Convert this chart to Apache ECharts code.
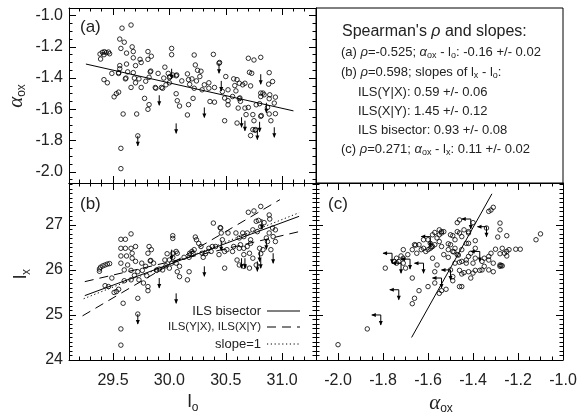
<!DOCTYPE html>
<html><head><meta charset="utf-8">
<script src="https://cdn.jsdelivr.net/npm/echarts@6/dist/echarts.min.js"></script>
<style>html,body{margin:0;padding:0;background:#fff}#c{width:579px;height:414px}</style>
</head><body><div id="c"></div><script>
// ---------------- DATA ----------------
// Tick labels
const loTicks = [29.5, 30.0, 30.5, 31.0];
const alphaTicks = [-2.0, -1.8, -1.6, -1.4, -1.2, -1.0];
const lxTicks = [24, 25, 26, 27];

// Panel (a): l_o vs alpha_ox (detections)
const aLo = [29.66,29.58,29.56,29.60,29.57,29.67,29.68,29.62,29.81,29.84,29.74,29.75,29.81,29.68,29.70,29.62,29.56,29.56,29.49,29.55,29.55,29.63,29.68,29.83,29.835,29.90,29.42,29.45,29.61,29.615,29.69,29.73,29.70,29.79,29.82,29.55,29.53,29.51,29.66,29.75,29.88,29.875,29.93,29.78,29.82,29.81,29.59,29.71,29.57,29.57,29.72,30.02,30.02,29.96,29.99,29.95,30.00,30.005,30.03,30.06,30.065,29.97,30.00,29.94,30.06,30.07,30.09,30.16,30.17,30.11,30.18,30.20,30.23,30.25,30.28,30.22,30.27,30.24,30.22,30.21,30.17,30.16,30.31,30.35,30.29,30.35,30.40,30.39,30.44,30.445,30.47,30.50,30.52,30.49,30.52,30.40,30.36,30.57,30.60,30.62,30.65,30.67,30.58,30.59,30.56,30.62,30.625,30.63,30.52,30.61,30.49,30.72,30.70,30.75,30.81,30.71,30.73,30.885,30.915,30.88,30.81,30.83,30.81,30.84,30.89,30.885,30.94,30.93,30.77,30.80,30.87,30.67,30.70,30.68,30.74,30.75,30.81,30.815,30.94,30.885,30.90,30.60,30.74,30.76,30.765,30.72,29.385,29.406,29.424,29.44,29.46,29.47,29.39,29.42];
const aAlpha = [-1.06,-1.08,-1.15,-1.17,-1.21,-1.20,-1.23,-1.24,-1.23,-1.26,-1.28,-1.30,-1.28,-1.27,-1.32,-1.31,-1.32,-1.34,-1.37,-1.37,-1.365,-1.36,-1.365,-1.36,-1.355,-1.37,-1.41,-1.43,-1.405,-1.40,-1.40,-1.405,-1.43,-1.42,-1.395,-1.49,-1.50,-1.52,-1.46,-1.46,-1.465,-1.46,-1.46,-1.53,-1.57,-1.60,-1.63,-1.63,-1.85,-1.98,-1.77,-1.21,-1.25,-1.33,-1.37,-1.40,-1.397,-1.39,-1.38,-1.385,-1.38,-1.443,-1.43,-1.465,-1.50,-1.545,-1.579,-1.373,-1.41,-1.418,-1.44,-1.405,-1.316,-1.35,-1.356,-1.252,-1.39,-1.418,-1.465,-1.53,-1.57,-1.636,-1.443,-1.43,-1.475,-1.465,-1.46,-1.248,-1.305,-1.30,-1.486,-1.39,-1.475,-1.528,-1.545,-1.554,-1.55,-1.405,-1.41,-1.433,-1.443,-1.433,-1.448,-1.482,-1.518,-1.532,-1.527,-1.549,-1.571,-1.592,-1.673,-1.45,-1.273,-1.284,-1.267,-1.363,-1.369,-1.365,-1.422,-1.439,-1.496,-1.496,-1.518,-1.507,-1.507,-1.532,-1.522,-1.56,-1.571,-1.564,-1.588,-1.592,-1.588,-1.634,-1.634,-1.673,-1.645,-1.64,-1.628,-1.63,-1.673,-1.688,-1.73,-1.734,-1.73,-1.768,-1.246,-1.235,-1.231,-1.237,-1.233,-1.244,-1.278,-1.25];
// Panel (a) upper limits
const aLimLo = [29.72,29.91,30.06,30.02,30.31,30.44,30.46,30.81,30.86,30.64,30.67,30.78,30.80,30.93];
const aLimAlpha = [-1.77,-1.51,-1.69,-1.34,-1.588,-1.305,-1.418,-1.375,-1.558,-1.651,-1.673,-1.73,-1.68,-1.715];
// Panel (a) fit
const fitALo = [29.26, 31.10];
const fitAAlpha = [-1.31, -1.61];

// Panel (b): l_o vs l_x (detections)
const bLo = [29.38,29.39,29.41,29.43,29.45,29.47,29.38,29.66,29.57,29.61,29.57,29.61,29.66,29.70,29.67,29.57,29.62,29.67,29.70,29.57,29.63,29.60,29.66,29.72,29.76,29.755,29.82,29.84,29.81,29.83,29.835,29.86,29.79,29.80,29.77,29.81,29.81,29.73,29.69,29.66,29.60,29.55,29.53,29.51,29.43,29.46,29.49,29.59,29.72,29.72,29.57,29.57,29.91,29.96,30.00,29.98,30.03,30.06,30.07,30.03,29.97,30.00,30.02,29.885,29.89,30.03,30.03,29.94,30.06,30.09,30.07,30.09,30.16,30.175,30.175,30.13,30.18,30.20,30.22,30.21,30.23,30.24,30.26,30.28,30.29,30.32,30.35,30.37,30.38,30.41,30.30,30.39,30.45,30.455,30.46,30.47,30.44,30.49,30.49,30.51,30.52,30.56,30.57,30.59,30.62,30.65,30.66,30.63,30.62,30.66,30.69,30.71,30.66,30.72,30.72,30.69,30.74,30.78,30.81,30.77,30.79,30.84,30.70,30.75,30.81,30.885,30.89,30.915,30.94,30.885,30.92,30.94,30.86,30.87,30.80,30.83,30.90,30.81,30.74,30.71,30.77,30.62,30.66,30.60];
const bLx = [26.02,26.06,26.09,26.11,26.13,26.14,25.97,26.80,26.68,26.68,26.48,26.48,26.48,26.52,26.37,26.31,26.31,26.26,26.19,26.15,26.11,26.00,25.99,25.96,25.99,26.15,26.52,26.45,26.37,26.20,26.21,26.15,26.08,25.87,25.71,25.63,25.54,25.78,25.88,25.78,25.76,25.57,25.52,25.50,25.65,25.63,25.82,25.26,25.37,25.02,24.69,24.33,26.02,26.22,26.22,26.36,26.37,26.41,26.37,26.28,26.09,26.04,26.15,25.99,26.00,26.76,26.70,26.00,26.15,26.08,25.96,25.85,25.78,25.96,26.28,26.28,26.37,26.41,26.45,26.36,26.73,26.67,26.59,26.52,26.37,26.36,26.48,26.41,26.52,26.52,26.28,27.04,26.94,26.93,26.82,26.67,26.34,26.04,26.41,26.45,26.82,26.41,26.52,26.82,26.71,26.82,26.74,26.56,26.48,26.48,26.52,26.37,26.34,26.59,26.67,26.82,26.89,26.85,26.96,27.08,27.10,27.05,27.28,27.31,27.41,27.22,27.13,26.93,26.89,26.82,26.74,26.63,26.71,26.63,26.48,26.45,26.45,26.36,26.26,26.04,26.11,26.11,26.08,26.22];
// Panel (b) upper limits
const bLimLo = [29.72,29.91,30.06,30.31,30.46,30.78,30.81,30.80,30.92,30.64,30.67,30.86,30.82,30.02];
const bLimLx = [25.02,25.82,25.48,26.08,26.65,26.19,26.26,26.41,26.37,26.26,26.26,26.68,27.13,26.45];
// Panel (b) regression lines
const bisectorLo = [29.25, 31.15];
const bisectorLx = [25.43, 27.19];
const ilsYXLo = [29.25, 31.15];
const ilsYXLx = [25.74, 26.85];
const ilsXYLo = [29.23, 30.98];
const ilsXYLx = [24.98, 27.56];
const slope1Lo = [29.24, 31.15];
const slope1Lx = [25.36, 27.27];

// Panel (c): alpha_ox vs l_x (detections)
const cAlpha = [-2.00,-1.87,-1.79,-1.67,-1.66,-1.67,-1.64,-1.60,-1.57,-1.55,-1.54,-1.52,-1.57,-1.50,-1.49,-1.49,-1.46,-1.45,-1.46,-1.44,-1.45,-1.42,-1.41,-1.40,-1.39,-1.37,-1.36,-1.35,-1.31,-1.33,-1.35,-1.33,-1.32,-1.28,-1.28,-1.27,-1.275,-1.28,-1.26,-1.25,-1.25,-1.24,-1.27,-1.30,-1.29,-1.28,-1.28,-1.25,-1.21,-1.19,-1.12,-1.10,-1.31,-1.33,-1.32,-1.34,-1.40,-1.46,-1.47,-1.44,-1.42,-1.42,-1.50,-1.49,-1.48,-1.47,-1.46,-1.45,-1.43,-1.42,-1.39,-1.39,-1.41,-1.42,-1.43,-1.45,-1.47,-1.465,-1.48,-1.50,-1.51,-1.49,-1.485,-1.51,-1.53,-1.51,-1.54,-1.55,-1.56,-1.55,-1.54,-1.55,-1.54,-1.53,-1.57,-1.58,-1.60,-1.59,-1.57,-1.58,-1.585,-1.59,-1.60,-1.63,-1.62,-1.66,-1.655,-1.64,-1.67,-1.65,-1.62,-1.61,-1.58,-1.56,-1.71,-1.69,-1.72,-1.74,-1.75,-1.74,-1.73,-1.71,-1.70,-1.71,-1.45,-1.43,-1.40,-1.39,-1.36,-1.33,-1.31,-1.46,-1.48];
const cLx = [24.34,24.69,26.04,25.25,25.37,25.82,25.54,25.63,25.71,25.48,25.54,25.57,25.96,26.00,25.85,25.76,25.63,25.63,25.99,25.94,25.91,25.96,25.82,25.93,25.99,25.99,26.00,26.08,25.96,26.22,26.26,26.30,26.37,26.08,26.11,26.09,26.10,26.36,26.37,26.31,26.41,26.45,26.48,26.46,26.73,26.89,27.04,26.76,26.46,26.46,26.67,26.80,27.39,27.30,27.33,26.93,27.05,27.11,27.05,26.89,26.82,26.85,26.78,26.76,26.67,26.85,26.82,26.74,26.59,26.59,26.48,26.65,26.37,26.30,26.22,26.19,26.34,26.33,26.48,26.56,26.58,26.41,26.40,26.28,26.34,26.45,26.52,26.63,26.71,26.78,26.85,26.89,26.82,26.85,26.83,26.78,26.67,26.59,26.56,26.52,26.51,26.48,26.45,26.45,26.48,26.56,26.55,26.56,26.45,26.37,26.67,26.41,26.26,26.11,26.26,26.34,26.31,26.26,26.19,26.15,26.19,26.15,26.04,26.45,26.45,26.15,26.15,26.26,26.19,26.00,26.15,26.17,26.15];
// Panel (c) upper limits (both quantities)
const cLimAlpha = [-1.81,-1.73,-1.54,-1.50,-1.34,-1.41,-1.37,-1.59,-1.62,-1.76,-1.68,-1.72];
const cLimLx = [25.00,25.56,25.82,26.00,26.96,27.13,26.41,26.74,26.15,26.37,26.24,26.15];
// Panel (c) fit
const fitCAlpha = [-1.673, -1.316];
const fitCLx = [24.50, 27.69];

// ---------------- LAYOUT / STYLE ----------------
const FONT = "'Liberation Sans', Arial, Helvetica, sans-serif";
const TXT = '#222';
const ranges = {
  lo: [29.11, 31.30],
  alphaA: [-2.072, -0.951],
  lx: [24.0, 27.93],
  alphaC: [-2.098, -1.0]
};
const grids = [
  {left: 69, top: 8, width: 247, height: 175},
  {left: 69, top: 183, width: 247, height: 177},
  {left: 316, top: 183, width: 247, height: 177}
];
function steps(min, max, step) {
  const out = [];
  for (let k = Math.ceil(min / step - 1e-9); k * step <= max + 1e-9; k++) out.push(+(k * step).toFixed(4));
  return out;
}
const zip = (a, b) => a.map((v, i) => [v, b[i]]);

const xAxes = [], yAxes = [];
function addAxes(list, dim, gi, pos, range, majors, minorStep, showLabels, fmt) {
  const base = {
    type: 'value', gridIndex: gi, position: pos, min: range[0], max: range[1],
    splitLine: {show: false}, minorTick: {show: false}, minorSplitLine: {show: false}
  };
  list.push(Object.assign({}, base, {
    axisLine: {show: true, onZero: false, lineStyle: {color: '#000', width: 1}},
    axisTick: {show: true, inside: true, length: 7, customValues: majors, lineStyle: {color: '#000', width: 1}},
    axisLabel: {show: showLabels, customValues: majors, formatter: fmt, fontSize: 16, fontFamily: FONT, color: TXT,
      margin: dim === 'x' ? 13 : 6}
  }));
  list.push(Object.assign({}, base, {
    axisLine: {show: false, onZero: false},
    axisTick: {show: true, inside: true, length: 3.5, customValues: steps(range[0], range[1], minorStep), lineStyle: {color: '#000', width: 1}},
    axisLabel: {show: false}
  }));
}
const f1 = v => v.toFixed(1), f0 = v => v.toFixed(0);
// grid 0 (a)
addAxes(xAxes, 'x', 0, 'bottom', ranges.lo, loTicks, 0.1, false, f1);
addAxes(xAxes, 'x', 0, 'top', ranges.lo, loTicks, 0.1, false, f1);
addAxes(yAxes, 'y', 0, 'left', ranges.alphaA, alphaTicks, 0.05, true, f1);
addAxes(yAxes, 'y', 0, 'right', ranges.alphaA, alphaTicks, 0.05, false, f1);
// grid 1 (b)
addAxes(xAxes, 'x', 1, 'bottom', ranges.lo, loTicks, 0.1, true, f1);
addAxes(xAxes, 'x', 1, 'top', ranges.lo, loTicks, 0.1, false, f1);
addAxes(yAxes, 'y', 1, 'left', ranges.lx, lxTicks, 0.1, true, f0);
addAxes(yAxes, 'y', 1, 'right', ranges.lx, lxTicks, 0.1, false, f0);
// grid 2 (c)
addAxes(xAxes, 'x', 2, 'bottom', ranges.alphaC, alphaTicks, 0.05, true, f1);
addAxes(xAxes, 'x', 2, 'top', ranges.alphaC, alphaTicks, 0.05, false, f1);
addAxes(yAxes, 'y', 2, 'left', ranges.lx, lxTicks, 0.1, false, f0);
addAxes(yAxes, 'y', 2, 'right', ranges.lx, lxTicks, 0.1, false, f0);

function scatter(gi, xs, ys) {
  return {type: 'scatter', xAxisIndex: gi * 4, yAxisIndex: gi * 4, data: zip(xs, ys),
    symbol: 'circle', symbolSize: 4.5, silent: true,
    itemStyle: {color: 'rgba(0,0,0,0)', borderColor: '#000', borderWidth: 1}};
}
function line(gi, xs, ys, type) {
  return {type: 'line', xAxisIndex: gi * 4, yAxisIndex: gi * 4, data: zip(xs, ys), symbol: 'none', silent: true,
    lineStyle: {color: '#000', width: 1, type: type}};
}
function arrowDown(p, len) {
  return [
    {type: 'line', shape: {x1: p[0], y1: p[1], x2: p[0], y2: p[1] + len}, style: {stroke: '#000', lineWidth: 1}},
    {type: 'polygon', shape: {points: [[p[0] - 2, p[1] + len - 4], [p[0] + 2, p[1] + len - 4], [p[0], p[1] + len + 0.5]]}, style: {fill: '#000'}}
  ];
}
function arrowLeft(p, len) {
  return [
    {type: 'line', shape: {x1: p[0], y1: p[1], x2: p[0] - len, y2: p[1]}, style: {stroke: '#000', lineWidth: 1}},
    {type: 'polygon', shape: {points: [[p[0] - len + 4, p[1] - 2], [p[0] - len + 4, p[1] + 2], [p[0] - len - 0.5, p[1]]]}, style: {fill: '#000'}}
  ];
}
function limits(gi, xs, ys, corner) {
  return {type: 'custom', xAxisIndex: gi * 4, yAxisIndex: gi * 4, data: zip(xs, ys), silent: true,
    renderItem: function (params, api) {
      const p = api.coord([api.value(0), api.value(1)]);
      let ch = arrowDown(p, 10);
      if (corner) ch = ch.concat(arrowLeft(p, 9));
      return {type: 'group', children: ch};
    }};
}

const series = [
  scatter(0, aLo, aAlpha), limits(0, aLimLo, aLimAlpha, false), line(0, fitALo, fitAAlpha, 'solid'),
  scatter(1, bLo, bLx), limits(1, bLimLo, bLimLx, false),
  line(1, bisectorLo, bisectorLx, 'solid'), line(1, ilsYXLo, ilsYXLx, [9, 6]),
  line(1, ilsXYLo, ilsXYLx, [9, 6]), line(1, slope1Lo, slope1Lx, [1.2, 2.6]),
  scatter(2, cAlpha, cLx), limits(2, cLimAlpha, cLimLx, true), line(2, fitCAlpha, fitCLx, 'solid')
];

// ---------------- TEXT ----------------
const richBase = {
  i: {fontStyle: 'italic', fontSize: 13, fontFamily: FONT, fill: TXT, lineHeight: 17},
  s: {fontSize: 9, fontFamily: FONT, fill: TXT, verticalAlign: 'bottom', lineHeight: 17, padding: [0, 0, 0, 0]}
};
function txt(x, y, text, size, extra) {
  return Object.assign({type: 'text', x: x, y: y, silent: true,
    style: Object.assign({text: text, fontSize: size, fontFamily: FONT, fill: TXT,
      align: 'left', textAlign: 'left', verticalAlign: 'middle', textVerticalAlign: 'middle', lineHeight: 17, rich: richBase}, extra || {})}, {});
}
const boxLines = [
  {y: 52, x: 341, t: '(a) {i|ρ}=-0.525; {i|α}{s|ox} - l{s|o}: -0.16 +/- 0.02'},
  {y: 72, x: 341, t: '(b) {i|ρ}=0.598; slopes of l{s|x} - l{s|o}:'},
  {y: 92, x: 358, t: 'ILS(Y|X): 0.59 +/- 0.06'},
  {y: 111, x: 358, t: 'ILS(X|Y): 1.45 +/- 0.12'},
  {y: 130, x: 358, t: 'ILS bisector: 0.93 +/- 0.08'},
  {y: 149, x: 341, t: '(c) {i|ρ}=0.271; {i|α}{s|ox} - l{s|x}: 0.11 +/- 0.02'}
];
const graphics = [
  {type: 'rect', silent: true, shape: {x: 316, y: 8, width: 247, height: 175}, style: {fill: 'none', stroke: '#000', lineWidth: 1}},
  txt(342, 32, 'Spearman\'s {t|ρ} and slopes:', 16, {rich: {t: {fontStyle: 'italic', fontSize: 16, fontFamily: FONT, fill: TXT}}}),
  txt(80, 27, '(a)', 17), txt(80, 204, '(b)', 17), txt(328, 204, '(c)', 17)
].concat(boxLines.map(l => txt(l.x, l.y, l.t, 13)));

// axis titles
const nameRich = {
  g: {fontStyle: 'italic', fontSize: 21, fontFamily: "'Liberation Serif', serif", fill: TXT, lineHeight: 24},
  s: {fontSize: 12, fontFamily: FONT, fill: TXT, verticalAlign: 'bottom', lineHeight: 24},
  n: {fontSize: 19, fontFamily: FONT, fill: TXT, lineHeight: 24}
};
function nameText(x, y, text, rot) {
  return {type: 'text', x: x, y: y, rotation: rot, silent: true,
    style: {text: text, rich: nameRich, fill: TXT, align: 'center', textAlign: 'center', verticalAlign: 'middle', textVerticalAlign: 'middle'}};
}
graphics.push(nameText(16, 96, '{g|α}{s|ox}', Math.PI / 2));
graphics.push(nameText(21, 274, '{n|l}{s|x}', Math.PI / 2));
graphics.push(nameText(193, 402, '{n|l}{s|o}', 0));
graphics.push(nameText(441, 403, '{g|α}{s|ox}', 0));

// legend in (b)
const legendRows = [
  {y: 311, t: 'ILS bisector', dash: null, size: 13},
  {y: 327, t: 'ILS(Y|X), ILS(X|Y)', dash: [9, 6], size: 11.5},
  {y: 344, t: 'slope=1', dash: [1.2, 2.6], size: 13}
];
legendRows.forEach(r => {
  graphics.push(txt(261, r.y, r.t, r.size, {align: 'right', textAlign: 'right'}));
  graphics.push({type: 'line', silent: true, shape: {x1: 267, y1: r.y, x2: 300, y2: r.y},
    style: {stroke: '#000', lineWidth: 1, lineDash: r.dash}});
});

const chart = echarts.init(document.getElementById('c'), null, {renderer: 'canvas'});
chart.setOption({
  animation: false,
  backgroundColor: '#fff',
  grid: grids.map(g => Object.assign({containLabel: false, outerBoundsMode: 'none', show: false}, g)),
  xAxis: xAxes,
  yAxis: yAxes,
  series: series,
  graphic: graphics
});
</script></body></html>
